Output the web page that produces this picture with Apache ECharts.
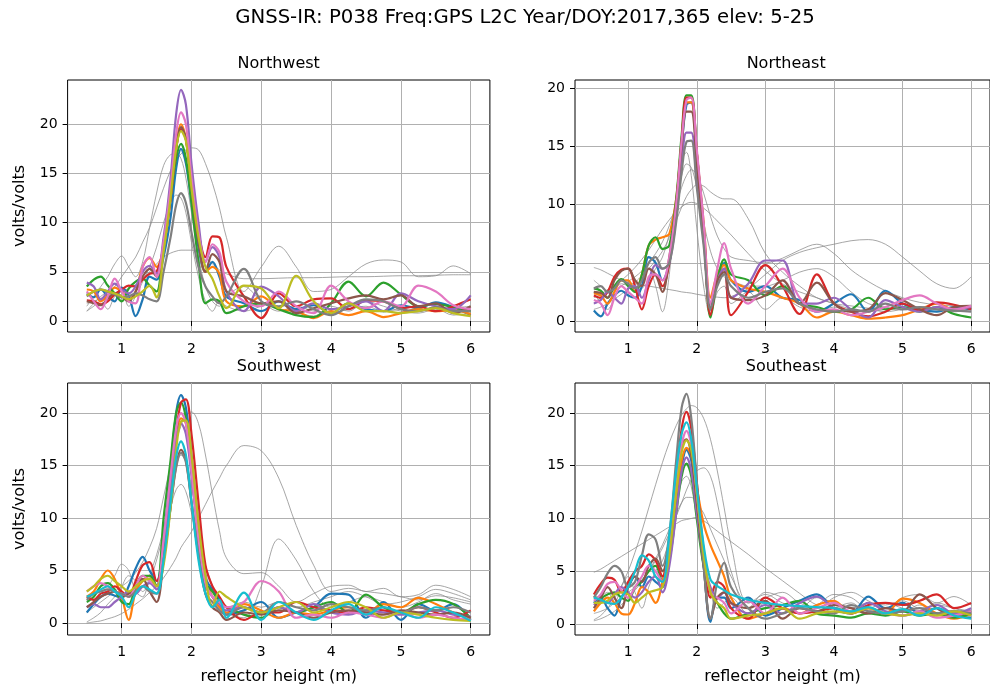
<!DOCTYPE html>
<html>
<head>
<meta charset="utf-8">
<script src="https://cdn.jsdelivr.net/npm/echarts@6/dist/echarts.min.js"></script>
<style>html,body{margin:0;padding:0;background:#fff}#chart{width:990px;height:687px}</style>
</head>
<body>
<div id="chart"></div>
<script>
// reflector heights (m) shared by every periodogram
const heights = [0.5,0.6,0.7,0.8,0.9,1.0,1.1,1.2,1.3,1.4,1.5,1.6,1.7, 1.78,1.85,1.92,2.0, 2.1,2.2,2.3,2.4,2.5, 2.75,3.0,3.25,3.5,3.75,4.0,4.25,4.5,4.75,5.0,5.25,5.5,5.75,6.0];
const xTicks = [1,2,3,4,5,6];
const yTicks = [0,5,10,15,20];

// Northwest: accepted arcs (blue, orange, green, red, purple, brown, pink, gray, olive)
const northwestArcs = [
 [2.8,2.4,3.2,2.5,2.0,3.4,2.6,0.5,2.2,4.5,4.2,6.5,10.5, 15.5,17.5,16,12, 7.5,5.0,6.0,4.5,2.5, 1.8,1.0,2.0,1.2,1.6,0.8,1.8,1.2,1.0,1.6,1.3,1.9,1.4,0.6],
 [3.2,3.0,2.0,2.6,3.4,3.0,2.2,3.0,5.5,6.4,5.5,7.5,12.5, 18,20,18.5,13.5, 8.5,5.0,5.5,4.8,2.0, 1.5,2.5,1.2,1.0,0.3,1.0,0.6,1.0,0.4,0.8,1.2,1.0,1.1,0.7],
 [3.5,4.2,4.5,3.6,2.8,2.0,3.3,4.0,4.3,3.6,3.0,8.0,12.5, 16.5,18,16.5,12, 6.0,1.8,2.2,2.0,0.8, 1.5,1.8,1.2,0.6,0.4,1.8,4.0,2.5,3.9,2.7,1.5,1.7,1.4,1.0],
 [2.1,2.0,1.7,2.0,2.7,3.2,3.6,3.5,4.2,4.8,5.0,7.5,12.5, 17.5,19.5,18.5,14, 9.0,6.5,8.6,8.5,5.5, 2.5,0.3,2.8,1.5,2.2,2.3,1.2,2.1,2.0,1.3,1.5,1.0,1.5,2.2],
 [3.9,3.5,2.2,3.0,3.8,3.2,2.8,3.5,5.0,5.6,4.8,8.5,14.5, 21,23.5,22,16, 10,6.0,7.5,6.5,3.0, 1.0,3.5,2.5,1.0,1.8,1.2,1.5,2.0,1.0,2.8,2.0,1.5,1.2,2.6],
 [2.0,1.8,1.6,2.3,2.8,2.5,2.0,3.0,4.5,5.3,4.5,7.5,12.5, 17.5,19.7,18.5,13.5, 8.0,5.0,6.8,6.0,3.0, 2.5,1.8,2.0,0.8,1.3,1.8,2.3,2.6,2.2,2.6,1.5,1.8,0.8,1.5],
 [3.0,2.0,1.2,2.5,4.3,3.0,2.0,1.8,5.5,6.5,4.5,8.0,13.5, 19,21.2,20,14.5, 9.0,6.0,7.8,7.0,4.0, 2.0,1.5,3.0,1.5,0.8,3.6,2.0,1.3,2.0,1.5,3.6,3.0,1.6,1.2],
 [2.5,3.0,3.2,3.0,2.7,2.4,2.5,2.8,2.6,2.2,2.0,5.0,8.5, 11.8,13,12,9.0, 5.5,3.5,2.5,1.8,2.5, 5.3,2.0,1.5,2.0,1.2,0.6,1.5,2.2,2.0,1.2,1.0,1.4,1.0,1.0],
 [2.6,3.0,3.2,3.0,2.8,2.5,2.2,2.5,3.0,3.6,2.4,7.0,12.5, 17.5,19.3,18.3,13.5, 8.5,5.5,4.3,2.5,1.3, 3.6,3.3,1.3,4.6,2.0,0.8,1.8,1.0,1.0,0.8,1.0,1.3,0.8,0.5]
];
// Northwest: rejected arcs (thin gray)
const northwestGray = [
 [1.0,1.8,2.5,3.0,3.5,4.5,5.5,6.5,8.0,9.5,11.5,13.5,15.3, 16.3,17.0,17.4,17.6, 17.4,16.0,14.0,11.5,8.5, 3.0,5.5,7.6,5.5,3.0,3.2,4.5,5.8,6.2,6.0,4.5,4.6,5.6,4.8],
 [1.5,2.5,3.5,4.5,5.8,6.6,5.5,4.5,6.0,9.5,13.0,15.8,16.9, 17.0,16.5,14.5,11.0, 6.5,3.5,2.0,1.5,2.5, 3.5,2.0,1.0,1.5,1.0,0.8,1.2,1.5,1.0,1.2,1.5,1.0,1.3,1.5],
 [1.8,2.0,2.3,2.5,2.7,3.0,3.3,3.7,4.3,5.0,5.8,6.5,6.9, 7.1,7.2,7.2,7.2, 7.0,6.5,5.8,5.2,4.8, 4.3,4.3,4.35,4.4,4.4,4.45,4.5,4.5,4.55,4.6,4.6,4.65,4.7,4.7],
 [1.0,1.5,2.0,1.2,2.5,3.0,1.5,2.5,4.0,5.5,7.5,10.0,12.0, 12.8,12.5,11.0,8.0, 4.5,2.0,1.0,2.0,1.5, 1.0,1.5,2.0,1.0,0.5,1.5,1.0,2.0,1.5,1.0,0.8,1.2,0.6,0.8]
];

// Northeast
const northeastArcs = [
 [0.9,0.4,1.5,2.2,2.6,2.2,2.0,3.0,5.5,5.0,3.5,5.0,9.5, 15,18.6,18.8,14, 8.0,1.0,3.5,5.0,3.5, 2.5,3.0,2.0,1.8,0.8,1.5,2.3,0.8,2.6,1.5,1.0,0.8,1.2,1.0],
 [2.4,2.2,1.5,2.5,3.5,3.5,2.5,4.0,6.5,7.0,7.2,7.5,10.5, 15.5,18.8,18.8,14.5, 8.5,2.0,4.0,4.8,3.5, 2.8,2.5,2.0,1.5,0.3,0.8,0.5,0.2,0.3,0.5,1.0,1.5,1.0,1.2],
 [2.8,2.6,2.0,3.0,3.6,3.0,2.5,4.0,6.5,7.2,6.2,6.5,10.5, 16,19.4,19.4,14.5, 8.0,0.3,3.5,5.3,4.0, 3.5,2.2,3.0,1.5,1.2,0.8,1.0,2.0,1.0,1.2,0.8,1.2,0.6,0.3],
 [2.2,2.0,2.5,3.8,4.4,4.5,3.0,1.0,3.0,4.0,3.0,5.0,10.0, 15.5,19.2,19.2,14.5, 8.0,0.5,3.5,4.5,0.5, 2.5,4.8,3.0,0.6,4.0,1.5,0.8,0.4,0.8,1.5,0.9,1.6,1.4,1.0],
 [1.5,1.8,2.5,2.0,1.5,2.8,3.0,2.0,3.5,4.8,4.5,5.0,9.0, 13.5,16.2,16.2,12.0, 7.0,1.5,3.5,4.5,2.0, 3.2,5.2,5.2,1.5,1.5,2.0,1.0,0.3,1.8,1.2,0.8,1.2,1.0,1.2],
 [2.5,2.4,2.0,3.5,4.3,4.5,3.5,3.0,4.5,4.0,2.5,5.5,10.0, 15,18.0,18.0,13.5, 7.5,1.0,3.5,4.2,2.0, 1.8,2.2,3.5,1.5,3.3,1.5,0.8,1.0,2.4,1.8,1.0,0.5,1.2,1.3],
 [1.8,1.5,0.5,2.0,3.0,2.5,2.0,1.5,3.8,4.0,3.5,5.5,10.0, 15.5,19.0,19.2,14.8, 8.5,1.5,4.5,6.7,4.5, 1.5,3.0,4.5,2.0,0.8,1.0,0.5,0.8,1.2,1.8,2.2,1.5,1.0,1.3],
 [2.8,3.0,2.5,2.8,3.5,3.2,2.8,3.5,5.0,5.5,4.5,5.0,8.5, 12.8,15.4,15.5,11.5, 6.5,1.0,3.0,4.0,3.0, 2.0,2.5,2.8,1.5,1.0,0.8,1.0,0.8,1.5,1.0,1.2,1.0,0.9,0.8]
];
const northeastGray = [
 [2.0,2.3,2.7,3.1,3.5,4.0,4.6,5.3,6.1,7.0,7.9,8.7,9.4, 9.8,10.1,10.2,10.1, 9.7,9.2,8.6,8.0,7.4, 5.8,4.3,3.2,2.5,2.0,1.5,1.3,1.1,1.0,1.0,0.9,1.0,0.9,1.0],
 [1.0,1.2,1.5,1.9,2.3,2.8,3.3,3.9,4.5,5.2,6.0,7.2,8.6, 9.8,10.7,11.3,11.7, 11.6,11.1,10.7,10.5,10.5, 8.8,5.8,4.2,3.0,2.0,1.5,1.0,0.8,1.0,1.2,1.0,0.8,1.0,1.2],
 [1.5,2.0,2.4,2.6,3.0,3.4,3.8,4.3,5.0,5.8,6.8,8.2,10.0, 11.5,12.5,13.0,12.6, 11.0,9.0,7.3,6.2,5.5, 5.2,5.0,5.4,6.1,6.6,5.8,4.4,3.4,2.6,2.0,1.6,1.4,1.3,1.2],
 [4.6,4.4,4.1,3.8,3.5,3.3,3.2,3.1,3.0,2.9,2.8,2.7,2.6, 2.5,2.45,2.4,2.3, 2.2,2.1,2.05,2.0,2.1, 2.8,4.0,5.2,5.9,6.3,6.6,6.9,7.0,6.6,5.5,4.3,3.2,2.8,3.8],
 [2.5,1.5,1.0,2.0,3.0,2.5,2.0,3.5,4.5,3.0,0.8,4.0,10.0, 13.8,14.5,12.5,8.0, 3.0,0.5,2.5,3.0,1.5, 2.5,1.0,2.0,1.2,0.8,1.2,0.8,1.0,0.8,1.0,1.2,1.0,0.8,1.0],
 [3.5,3.0,2.5,2.8,3.2,3.0,2.6,2.8,3.5,4.5,5.5,7.5,10.5, 12.5,13.5,13.2,11.5, 8.5,6.0,4.5,3.8,3.5, 3.0,3.0,3.5,4.2,4.5,3.8,2.5,1.5,1.2,1.0,1.2,1.0,0.8,1.0]
];

// Southwest
const southwestArcs = [
 [1.0,1.8,2.5,2.8,2.6,2.4,3.5,5.2,6.3,5.0,4.0,8.0,14.5, 20.0,21.7,20.5,16.0, 9.5,4.3,3.2,2.2,0.8, 1.2,2.0,0.5,1.0,1.5,2.8,2.7,0.5,2.0,0.3,1.8,1.2,1.8,0.3],
 [2.5,3.0,4.2,5.0,4.2,2.5,0.3,3.0,4.0,4.5,3.5,6.5,12.5, 17.5,19.5,19.0,15.0, 9.0,4.0,2.5,1.5,1.0, 1.8,1.2,0.5,1.0,0.8,1.2,1.5,1.0,1.8,1.5,2.4,1.8,1.0,0.5],
 [2.0,2.5,3.5,3.8,3.2,2.0,1.8,3.5,4.5,4.5,3.5,10,15.5, 20.0,21.0,19.5,15.0, 8.5,3.8,3.0,2.0,1.5, 0.8,0.5,1.5,1.0,1.5,2.0,1.0,2.7,1.5,1.0,1.8,2.2,1.8,0.5],
 [2.5,2.2,2.8,3.0,3.5,3.0,2.5,4.0,5.5,5.8,4.0,6.0,12.0, 18.0,21.0,21.3,18.0, 11.5,5.5,3.5,2.5,1.5, 0.3,1.0,1.0,2.0,1.5,1.2,1.0,1.5,1.2,1.0,1.5,1.0,0.5,1.2],
 [1.5,1.8,1.5,1.5,2.0,2.5,3.0,2.8,3.5,3.8,3.2,7.0,13.0, 17.5,19.0,18.0,14.0, 8.0,3.5,2.5,1.8,1.2, 1.5,1.0,1.5,1.0,1.8,1.0,0.8,1.2,1.0,0.8,1.0,1.2,0.8,0.6],
 [1.5,2.0,2.5,2.8,3.0,2.5,2.8,3.5,4.2,3.0,2.0,6.0,11.0, 15.0,16.5,15.5,11.5, 6.5,2.8,1.5,1.0,0.3, 1.0,0.8,1.2,1.0,0.5,1.0,1.2,1.0,0.8,1.2,1.0,0.8,1.0,0.5],
 [3.0,3.5,3.8,3.5,3.0,2.8,2.5,3.5,4.5,4.0,3.5,8.0,14.0, 18.5,20.0,19.0,14.5, 8.0,3.8,2.5,2.0,1.5, 2.0,4.0,3.0,0.5,0.8,0.5,1.0,0.8,0.5,1.0,0.5,0.8,0.5,0.3],
 [2.2,2.8,3.0,3.2,3.0,2.8,2.5,3.0,3.5,3.0,2.8,6.0,11.0, 14.8,16.2,15.3,11.5, 6.5,2.8,2.0,1.2,0.8, 1.5,1.0,2.0,1.5,1.2,1.8,1.5,1.2,1.5,1.0,1.5,1.2,1.5,1.0],
 [3.0,3.5,4.2,4.5,4.0,3.5,3.0,3.5,4.0,4.2,3.5,5.5,11.0, 16.5,19.2,19.3,16.0, 9.5,4.5,1.5,3.0,2.5, 1.5,1.0,1.5,2.0,1.0,1.5,2.0,1.5,0.5,1.0,0.8,0.5,0.3,0.2],
 [2.5,2.8,3.2,3.5,3.0,2.5,1.5,2.8,3.5,3.2,2.8,6.0,11.5, 15.8,17.3,16.0,11.5, 6.0,2.8,1.5,2.2,0.5, 2.9,0.3,2.0,1.0,0.3,1.2,1.8,0.8,1.5,1.0,0.5,1.5,1.0,0.2]
];
const southwestGray = [
 [1.0,1.5,2.0,2.5,3.0,3.5,4.0,4.8,5.8,7.2,9.0,12.0,15.0, 17.3,18.8,19.8,20.1, 19.0,16.0,12.3,8.8,6.2, 4.7,4.8,3.5,2.0,2.8,3.5,3.6,3.0,3.3,2.5,2.7,3.6,3.2,2.5],
 [0.0,0.1,0.2,0.4,0.6,0.9,1.3,1.8,2.3,2.9,3.5,4.3,5.3, 6.2,7.2,7.9,8.7, 10.0,11.3,12.6,13.8,15.0, 16.9,16.4,13.8,9.3,5.5,3.0,3.3,3.0,2.8,2.5,2.2,2.6,2.4,2.0],
 [0.1,0.5,1.0,1.8,2.5,3.5,4.5,4.0,3.0,4.0,6.0,8.5,11.0, 12.7,13.2,12.5,10.5, 8.0,5.5,3.5,2.0,1.0, 0.5,3.5,8.0,6.0,3.0,1.5,2.0,2.5,2.0,1.5,2.0,2.8,2.2,1.8],
 [2.0,2.5,3.2,3.5,4.5,5.6,5.0,3.0,2.5,4.5,6.5,9.0,12.5, 15.0,16.0,15.5,13.0, 9.0,5.0,2.5,1.5,1.5, 2.0,1.5,2.0,1.5,2.0,2.5,3.0,2.5,1.8,2.0,2.5,3.2,2.8,2.2]
];

// Southeast
const southeastArcs = [
 [2.0,2.5,1.5,0.8,2.5,3.5,4.5,3.5,4.5,4.0,3.5,6.5,11.5, 15.0,16.5,15.5,11.0, 5.5,0.2,2.5,2.5,1.5, 2.5,0.8,1.5,2.2,2.8,1.5,1.0,2.6,1.5,2.0,1.0,1.5,0.8,0.6],
 [1.2,2.0,2.5,2.0,1.0,0.9,2.0,3.5,3.0,2.0,4.0,7.5,12.0, 15.5,16.7,16.0,13.0, 9.5,7.5,6.0,4.5,2.5, 0.5,1.0,1.5,1.0,1.8,2.2,1.0,1.5,1.0,2.4,2.0,1.0,0.5,1.0],
 [2.5,2.5,2.8,3.0,2.5,2.2,3.5,4.0,5.0,5.5,4.0,6.0,10.5, 14.0,15.2,14.0,10.0, 5.5,3.0,2.0,1.0,0.5, 1.0,1.5,1.8,2.2,1.0,0.8,0.6,1.0,0.8,1.2,0.8,1.0,0.6,1.0],
 [2.8,3.8,4.4,4.2,3.0,4.0,5.0,5.5,6.6,6.0,4.5,8.0,14.0, 18.5,20.1,18.5,13.5, 7.0,2.5,4.0,3.5,1.5, 0.5,2.5,1.5,1.0,1.2,1.5,1.0,1.8,2.0,1.8,2.2,2.8,1.5,2.0],
 [1.8,2.2,2.0,2.8,3.5,3.0,2.5,3.0,4.0,4.5,3.0,5.5,10.5, 14.5,15.8,14.5,10.5, 6.0,3.5,2.5,3.0,2.0, 1.0,1.8,1.0,2.0,2.6,1.5,1.0,2.0,1.2,0.8,1.2,1.8,1.0,1.5],
 [1.5,2.5,3.5,2.5,1.5,3.5,4.5,4.0,5.5,6.2,5.0,8.0,13.5, 17.0,17.5,16.0,11.5, 5.5,0.5,2.5,3.0,2.0, 1.5,2.2,0.5,1.5,1.2,1.8,1.5,1.0,1.5,1.2,2.8,1.5,0.8,1.2],
 [2.2,2.8,3.8,4.0,3.2,2.5,3.5,4.5,5.5,5.0,4.0,7.5,13.0, 17.0,18.3,17.0,12.5, 6.5,3.0,2.5,2.0,1.0, 2.2,1.0,2.5,1.0,1.5,2.0,1.2,1.5,1.0,0.8,1.2,0.6,0.8,1.2],
 [2.5,3.5,4.8,5.5,5.0,3.5,4.0,6.5,8.5,8.0,5.5,8.5,15.5, 20.5,21.8,19.5,13.5, 5.5,0.5,4.0,5.8,3.5, 1.5,0.5,1.0,1.5,1.2,1.0,1.8,1.2,1.0,1.2,1.5,1.0,1.2,1.0],
 [2.0,2.0,2.2,2.8,3.0,2.8,2.0,2.5,3.0,3.2,3.5,6.5,12.5, 16.3,17.4,16.5,12.5, 6.5,3.0,2.0,1.5,0.5, 0.8,1.0,1.5,0.5,1.0,1.2,1.0,1.5,1.0,0.8,1.0,0.8,1.2,0.8],
 [2.5,2.3,2.0,1.9,2.5,3.5,5.0,6.5,6.0,4.5,4.0,8.5,14.5, 18.0,19.1,17.5,13.0, 7.5,4.2,3.6,3.2,2.8, 2.3,2.0,1.8,1.7,1.6,1.5,1.2,1.6,1.0,1.4,0.8,1.5,0.8,0.5]
];
const southeastGray = [
 [4.9,5.2,5.6,6.0,6.4,6.8,7.2,7.6,8.0,8.4,8.8,9.2,9.5, 9.8,9.9,10.0,10.1, 9.8,9.3,8.8,8.3,7.8, 6.6,5.3,4.1,2.9,1.8,1.5,1.6,1.3,1.2,1.4,1.2,1.0,1.2,1.3],
 [0.4,0.8,1.5,2.4,3.6,5.0,6.8,8.8,11.0,13.2,15.3,17.2,18.8, 19.8,20.4,20.7,20.5, 19.5,17.5,14.5,11.0,7.5, 2.0,2.5,3.0,2.0,1.5,2.5,3.0,2.2,1.5,2.5,2.8,2.0,2.6,1.8],
 [1.0,1.2,1.5,2.0,2.5,3.0,3.5,4.2,5.0,6.0,7.2,8.6,10.2, 11.5,12.7,13.7,14.5, 14.8,14.0,11.5,8.0,5.0, 1.5,3.0,2.5,1.5,2.5,2.0,1.5,2.0,1.8,2.2,1.5,1.8,1.5,1.2],
 [0.3,0.5,0.8,1.2,1.8,2.5,3.2,4.0,5.0,6.2,7.5,9.0,10.5, 11.5,12.0,12.0,11.5, 10.5,9.0,7.5,6.0,4.5, 2.0,2.8,2.0,1.5,1.8,2.8,2.5,1.5,2.0,1.5,1.2,2.0,1.5,1.0],
 [1.5,2.5,3.0,2.0,3.5,4.5,3.0,1.5,3.5,5.0,6.0,8.0,11.5, 13.5,14.0,13.0,10.0, 6.0,3.0,1.5,2.0,2.5, 1.0,2.0,1.0,1.5,1.0,1.5,2.0,1.0,1.5,1.2,1.8,1.0,1.3,0.8]
];

const palette = ['#1f77b4','#ff7f0e','#2ca02c','#d62728','#9467bd','#8c564b','#e377c2','#7f7f7f','#bcbd22','#17becf'];
const FONT = 'DejaVu Sans';

const panels = [
  {name:'Northwest', arcs:northwestArcs, gray:northwestGray, left:67.6, top:80,  ymin:-1.12, ymax:24.5,  yName:true,  xName:false},
  {name:'Northeast', arcs:northeastArcs, gray:northeastGray, left:575,  top:80,  ymin:-0.946, ymax:20.72, yName:false, xName:false},
  {name:'Southwest', arcs:southwestArcs, gray:southwestGray, left:67.6, top:383, ymin:-1.143, ymax:22.86, yName:true,  xName:true},
  {name:'Southeast', arcs:southeastArcs, gray:southeastGray, left:575,  top:383, ymin:-1.043, ymax:22.84, yName:false, xName:true}
];
const W = 422.3, H = 252;

const chart = echarts.init(document.getElementById('chart'), null, {renderer:'canvas'});
const grids = [], xAxes = [], yAxes = [], series = [];
const titles = [{
  text:'GNSS-IR: P038 Freq:GPS L2C Year/DOY:2017,365 elev: 5-25',
  left:525, top:8, textAlign:'center', padding:0,
  textStyle:{fontFamily:FONT, fontSize:19.7, fontWeight:'normal', color:'#000'}
}];
const toPairs = arr => heights.map((h, i) => [h, arr[i]]);

panels.forEach((p, k) => {
  grids.push({left:p.left, top:p.top, width:W, height:H, show:true, borderColor:'#000', borderWidth:1, backgroundColor:'transparent', containLabel:false});
  titles.push({text:p.name, left:p.left + W/2, top:p.top - 24, textAlign:'center', padding:0,
    textStyle:{fontFamily:FONT, fontSize:16, fontWeight:'normal', color:'#000'}});
  xAxes.push({
    type:'value', gridIndex:k, min:0.225, max:6.275,
    name: p.xName ? 'reflector height (m)' : '', nameLocation:'middle', nameGap:34,
    nameTextStyle:{fontFamily:FONT, fontSize:16, color:'#000'},
    axisLine:{show:false},
    axisTick:{show:true, inside:false, length:5, lineStyle:{color:'#000', width:1}, customValues:xTicks},
    axisLabel:{show:true, margin:10, fontFamily:FONT, fontSize:14, color:'#000', customValues:xTicks},
    splitLine:{show:true, lineStyle:{color:'#b0b0b0', width:1}}
  });
  yAxes.push({
    type:'value', gridIndex:k, min:p.ymin, max:p.ymax,
    name: p.yName ? 'volts/volts' : '', nameLocation:'middle', nameGap:40, nameRotate:90,
    nameTextStyle:{fontFamily:FONT, fontSize:16, color:'#000'},
    axisLine:{show:false},
    axisTick:{show:true, inside:false, length:5, lineStyle:{color:'#000', width:1}, customValues:yTicks},
    axisLabel:{show:true, margin:10, fontFamily:FONT, fontSize:14, color:'#000', customValues:yTicks},
    splitLine:{show:true, lineStyle:{color:'#b0b0b0', width:1}}
  });
  p.gray.forEach(arr => series.push({
    type:'line', xAxisIndex:k, yAxisIndex:k, data:toPairs(arr), smooth:0.35, symbol:'none',
    lineStyle:{color:'#8a8a8a', width:0.9, opacity:0.85}, silent:true, z:2
  }));
  p.arcs.forEach((arr, c) => series.push({
    type:'line', xAxisIndex:k, yAxisIndex:k, data:toPairs(arr), smooth:0.35, symbol:'none',
    lineStyle:{color:palette[c], width:2.2}, silent:true, z:3
  }));
});

chart.setOption({
  animation:false,
  backgroundColor:'#fff',
  title:titles,
  grid:grids,
  xAxis:xAxes,
  yAxis:yAxes,
  series:series
});
</script>
</body>
</html>
